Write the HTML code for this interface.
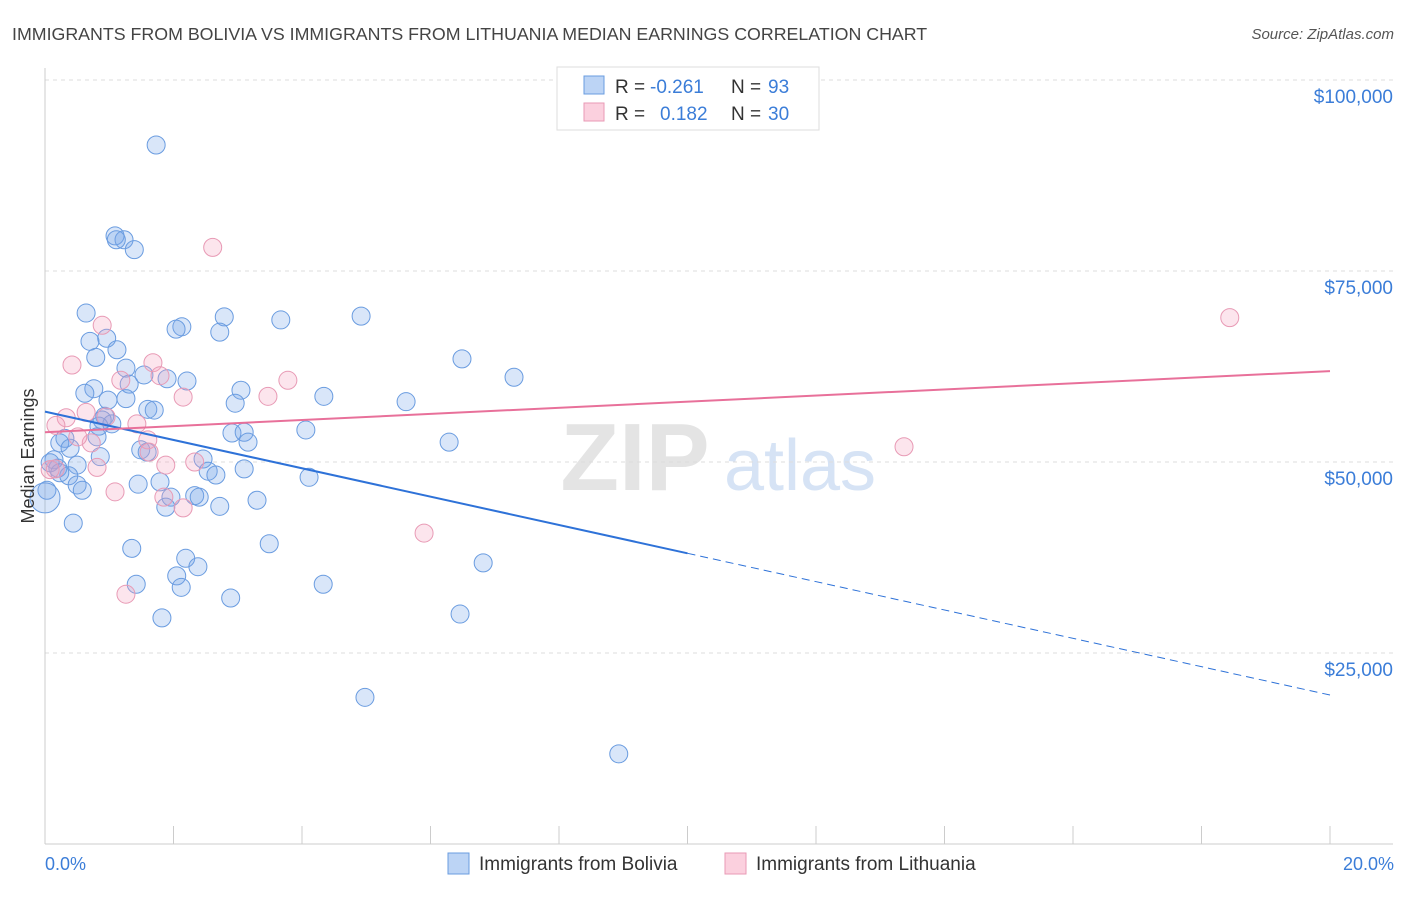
<!DOCTYPE html>
<html><head><meta charset="utf-8"><style>
body{margin:0;background:#fff;font-family:"Liberation Sans",sans-serif}
svg text{font-family:"Liberation Sans",sans-serif}
</style></head><body>
<svg id="chart" width="1406" height="892" xmlns="http://www.w3.org/2000/svg">
<text x="12" y="40" font-size="17.8" fill="#444">IMMIGRANTS FROM BOLIVIA VS IMMIGRANTS FROM LITHUANIA MEDIAN EARNINGS CORRELATION CHART</text>
<text x="1394" y="39" font-size="15" fill="#555" text-anchor="end" font-style="italic">Source: ZipAtlas.com</text>
<g>
<text x="635" y="490" font-size="96" fill="#e4e4e4" text-anchor="middle" font-family="Liberation Serif" font-weight="bold">ZIP</text>
<text x="800" y="490" font-size="72" fill="#d6e3f5" text-anchor="middle">atlas</text>
</g>
<g id="grid"></g>
<g id="axes"></g>
<g id="points"></g>
<g id="trends"></g>
<text transform="translate(34,456) rotate(-90)" font-size="18" fill="#333" text-anchor="middle">Median Earnings</text>
<text x="45" y="870" font-size="18" fill="#3b7dd8">0.0%</text>
<text x="1394" y="870" font-size="18" fill="#3b7dd8" text-anchor="end">20.0%</text>
<g>
<rect x="557" y="67" width="262" height="63" fill="#fff" stroke="#ddd"/>
<rect x="584" y="76" width="20" height="18" fill="#bcd4f5" stroke="#6a9ce0"/>
<rect x="584" y="103" width="20" height="18" fill="#fbd0de" stroke="#e89ab5"/>
<text x="615" y="93" font-size="19" fill="#333">R =</text>
<text x="650" y="93" font-size="19" fill="#3b7dd8">-0.261</text>
<text x="731" y="93" font-size="19" fill="#333">N =</text>
<text x="768" y="93" font-size="19" fill="#3b7dd8">93</text>
<text x="615" y="120" font-size="19" fill="#333">R =</text>
<text x="660" y="120" font-size="19" fill="#3b7dd8">0.182</text>
<text x="731" y="120" font-size="19" fill="#333">N =</text>
<text x="768" y="120" font-size="19" fill="#3b7dd8">30</text>
</g>
<g>
<rect x="448" y="853" width="21" height="21" fill="#bcd4f5" stroke="#6a9ce0"/>
<text x="479" y="870" font-size="19" fill="#333">Immigrants from Bolivia</text>
<rect x="725" y="853" width="21" height="21" fill="#fbd0de" stroke="#e89ab5"/>
<text x="756" y="870" font-size="19" fill="#333">Immigrants from Lithuania</text>
</g>
</svg>
<script>
const yTicks=[25000,50000,75000,100000];
const yTickLabels=["$25,000","$50,000","$75,000","$100,000"];
const xTicks=[0,2,4,6,8,10,12,14,16,18,20];
const boliviaX=[1.73,1.09,1.23,1.11,1.39,0.64,2.79,3.67,4.92,2.13,2.04,2.72,0.96,0.70,1.12,0.79,6.49,1.26,7.30,1.54,1.90,2.21,1.31,3.05,0.76,0.62,4.34,0.98,1.26,5.62,2.96,1.60,1.70,0.93,0.89,1.04,0.84,4.06,2.91,3.10,0.31,0.23,0.81,3.16,6.29,0.39,1.49,1.59,0.14,0.86,2.46,0.50,0.20,3.10,2.54,2.66,0.37,4.11,1.45,1.79,0.50,0.58,0.03,1.96,2.33,2.40,3.30,2.72,1.88,0.44,1.35,3.49,2.19,6.82,2.38,2.05,1.42,4.33,2.12,2.89,6.46,1.82,4.98,8.93,0.00,0.08,0.23];
const boliviaY=[91500,79600,79100,79100,77800,69500,69000,68600,69100,67700,67400,67000,66200,65800,64700,63700,63500,62300,61100,61400,60900,60600,60200,59400,59600,59000,58600,58100,58300,57900,57700,56900,56800,56000,55500,55000,54700,54200,53800,53900,53100,52500,53300,52600,52600,51800,51600,51300,50300,50700,50400,49600,49200,49100,48800,48300,48200,48000,47100,47400,47000,46300,46300,45400,45600,45400,45000,44200,44100,42000,38700,39300,37400,36800,36300,35100,34000,34000,33600,32200,30100,29600,19200,11800,45300,49900,48600];
const lithuaniaX=[2.61,18.44,0.89,0.42,1.68,1.18,1.79,3.78,2.15,3.47,0.64,0.33,0.95,1.43,0.17,1.60,0.72,0.51,1.62,2.33,1.88,0.81,0.16,1.85,2.15,1.09,13.37,5.90,1.26,0.08];
const lithuaniaY=[78100,68900,67900,62700,63000,60700,61300,60700,58500,58600,56500,55800,55900,55000,54800,52900,52500,53300,51300,50000,49600,49300,49100,45400,44000,46100,52000,40700,32700,49000];
const boliviaTrend=[56600,19500];
const lithuaniaTrend=[53900,61900];
const NS='http://www.w3.org/2000/svg';
function xs(v){return 45+v*64.25;}
function ys(v){return 844-v/130.9;}
function mk(tag,attrs,parent){const e=document.createElementNS(NS,tag);for(const k in attrs)e.setAttribute(k,attrs[k]);document.getElementById(parent).appendChild(e);return e;}
yTicks.forEach((t,i)=>{
 const l=mk('line',{x1:45,x2:1393,y1:ys(t),y2:ys(t),stroke:'#ddd','stroke-dasharray':'4,4'},'grid');
 
 
 const tx=mk('text',{x:1393,y:ys(t)+23,'font-size':19,fill:'#3b7dd8','text-anchor':'end'},'grid');
 tx.textContent=yTickLabels[i];
 
 
});
const ax=mk('line',{x1:45,x2:45,y1:68,y2:844,stroke:'#ccc'},'axes');


const bx=mk('line',{x1:45,x2:1393,y1:844,y2:844,stroke:'#ccc'},'axes');


xTicks.forEach(t=>{
 const l=mk('line',{x1:xs(t),x2:xs(t),y1:826,y2:844,stroke:'#ccc'},'axes');
 
 
});
boliviaX.forEach((x,i)=>{
 const big=(x===0);
 const c=mk('circle',{cx:xs(x),cy:ys(boliviaY[i]),r:big?15:9,fill:'rgba(120,165,235,0.28)',stroke:'#6a9ce0','stroke-width':1},'points');
 
 
});
lithuaniaX.forEach((x,i)=>{
 const c=mk('circle',{cx:xs(x),cy:ys(lithuaniaY[i]),r:9,fill:'rgba(245,160,190,0.28)',stroke:'#e89ab5','stroke-width':1},'points');
 
 
});
const bmid=boliviaTrend[0]+(boliviaTrend[1]-boliviaTrend[0])*0.5;
const b1=mk('line',{x1:xs(0),y1:ys(boliviaTrend[0]),x2:xs(10),y2:ys(bmid),stroke:'#2e72d8','stroke-width':2},'trends');


const b2=mk('line',{x1:xs(10),y1:ys(bmid),x2:xs(20),y2:ys(boliviaTrend[1]),stroke:'#2e72d8','stroke-width':1,'stroke-dasharray':'8,5'},'trends');


const p1=mk('line',{x1:xs(0),y1:ys(lithuaniaTrend[0]),x2:xs(20),y2:ys(lithuaniaTrend[1]),stroke:'#e8709a','stroke-width':2},'trends');


</script>
</body></html>
